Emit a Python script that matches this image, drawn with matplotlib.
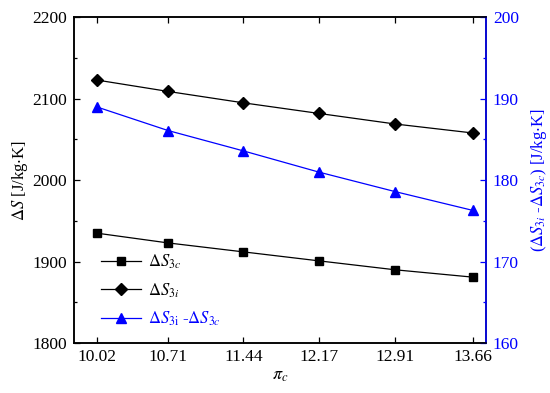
import matplotlib
matplotlib.use('Agg')
import matplotlib.pyplot as plt
from matplotlib.ticker import MultipleLocator

plt.rcParams['font.family'] = ['Liberation Serif', 'DejaVu Serif']
plt.rcParams['mathtext.fontset'] = 'stix'
plt.rcParams['font.size'] = 12.5

# Data
pressure_ratio = [10.02, 10.71, 11.44, 12.17, 12.91, 13.66]
ds_3c = [1935, 1923, 1912, 1901, 1890, 1881]
ds_3i = [2123, 2109, 2095, 2082, 2069, 2058]
ds_diff = [189.0, 186.1, 183.6, 181.0, 178.6, 176.3]

blue = '#0000ff'

fig = plt.figure(figsize=(5.5, 3.93), dpi=100)
ax = fig.add_axes([0.1345, 0.127, 0.749, 0.829])
ax2 = ax.twinx()

l1, = ax.plot(pressure_ratio, ds_3c, color='black', lw=0.9, marker='s', markersize=6,
              label=r'$\mathit{\Delta}S_{3c}$')
l2, = ax.plot(pressure_ratio, ds_3i, color='black', lw=0.9, marker='D', markersize=6.5,
              label=r'$\mathit{\Delta}S_{3i}$')
l3, = ax2.plot(pressure_ratio, ds_diff, color=blue, lw=0.9, marker='^', markersize=7.5,
               label=r'$\mathit{\Delta}S_{3\mathrm{i}}$ -$\mathit{\Delta}S_{3c}$')

ax.set_xlim(9.8, 13.79)
ax.set_xticks(pressure_ratio)
ax.set_xticklabels([f'{v:.2f}' for v in pressure_ratio])
ax.set_ylim(1800, 2200)
ax.yaxis.set_major_locator(MultipleLocator(100))
ax.yaxis.set_minor_locator(MultipleLocator(50))
ax2.set_ylim(160, 200)
ax2.yaxis.set_major_locator(MultipleLocator(10))
ax2.yaxis.set_minor_locator(MultipleLocator(5))

ax.tick_params(axis='x', which='both', direction='in', top=True, length=4, width=0.9, pad=4)
ax.tick_params(axis='y', which='major', direction='in', length=4, width=0.9, right=False, pad=5)
ax.tick_params(axis='y', which='minor', direction='in', length=2.5, width=0.9, right=False)
ax2.tick_params(axis='y', which='major', direction='in', length=4, width=0.9, colors=blue, pad=5)
ax2.tick_params(axis='y', which='minor', direction='in', length=2.5, width=0.9, colors=blue)

for sp in ax.spines.values():
    sp.set_linewidth(1.1)
for name, sp in ax2.spines.items():
    sp.set_linewidth(1.1)
ax2.spines['right'].set_color(blue)

ax.set_xlabel(r'$\pi_c$', fontsize=13, labelpad=2)
ax.set_ylabel(r'$\mathit{\Delta}S$ [J/kg$\cdot$K]', fontsize=12, labelpad=2)
ax2.set_ylabel(r'($\mathit{\Delta}S_{3i}$ -$\mathit{\Delta}S_{3c}$) [J/kg$\cdot$K]', fontsize=12,
               color=blue, labelpad=7)

leg = ax2.legend(handles=[l1, l2, l3], loc='lower left', bbox_to_anchor=(0.03, 0.0),
                 frameon=False, handlelength=2.4, handletextpad=0.4, labelspacing=0.6,
                 fontsize=12)
leg.get_texts()[2].set_color(blue)

fig.savefig('out.png', dpi=100)
